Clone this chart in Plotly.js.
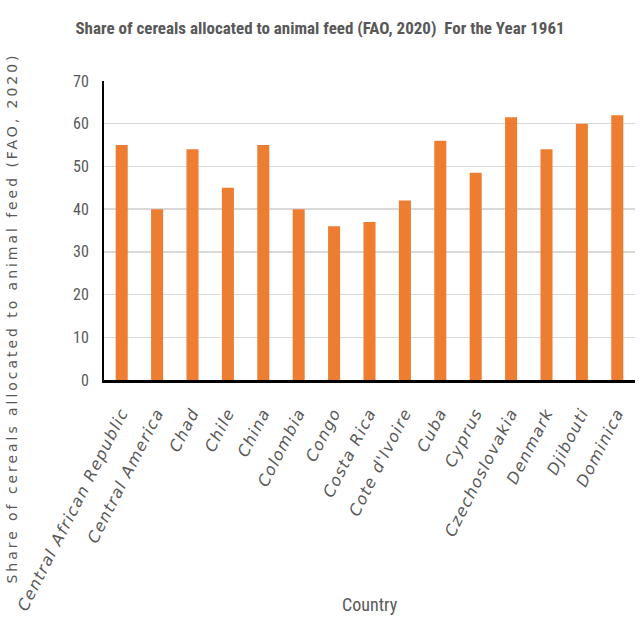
<!DOCTYPE html>
<html>
<head>
<meta charset="utf-8">
<script src="https://cdn.plot.ly/plotly-3.0.1.min.js"></script>
<style>
html,body{margin:0;padding:0;background:#fff;}
#chart{width:640px;height:640px;}
.xtick text{letter-spacing:1.3px;font-style:italic !important;}
</style>
</head>
<body>
<div id="chart"></div>
<script>
const countries = ["Central African Republic","Central America","Chad","Chile","China","Colombia","Congo","Costa Rica","Cote d'Ivoire","Cuba","Cyprus","Czechoslovakia","Denmark","Djibouti","Dominica"];
const shares = [55, 40, 54, 45, 55, 40, 36, 37, 42, 56, 48.5, 61.5, 54, 60, 62];
const yTicks = [0, 10, 20, 30, 40, 50, 60, 70];
const yTitle = 'Share of cereals allocated to animal feed (FAO, 2020)';
const xTitle = 'Country';

const narrow = "Liberation Sans Narrow, Arial Narrow, Roboto Condensed, sans-serif";
const wide = "DejaVu Sans, Verdana, sans-serif";

Plotly.newPlot('chart', [{
  type: 'bar',
  x: countries,
  y: shares,
  marker: {color: '#ED7D31'},
  hoverinfo: 'x+y'
}], {
  width: 640, height: 640,
  paper_bgcolor: '#ffffff', plot_bgcolor: '#ffffff',
  margin: {l: 104, r: 5, t: 81, b: 260},
  bargap: 0.66,
  showlegend: false,
  title: {
    text: 'Share of cereals allocated to animal feed (FAO, 2020)  For the Year 1961',
    font: {family: narrow, size: 17, color: '#595959', weight: 'bold'},
    x: 0.5, xanchor: 'center', y: 0.956, yanchor: 'middle'
  },
  xaxis: {
    type: 'category',
    tickangle: -63,
    tickfont: {family: wide, size: 16, color: '#595959', style: 'italic'},
    showline: true, linecolor: '#000000', linewidth: 3,
    ticks: '', showgrid: false,
    ticklabelstandoff: 14,
    automargin: false
  },
  yaxis: {
    range: [0, 70],
    tickvals: yTicks,
    ticktext: yTicks.map(String),
    tickfont: {family: narrow, size: 16, color: '#595959'},
    showgrid: true, gridcolor: '#d9d9d9', gridwidth: 1.5,
    showline: true, linecolor: '#000000', linewidth: 2,
    zeroline: false,
    ticks: '', ticklabelstandoff: 10,
    automargin: false
  },
  annotations: [
    {
      text: yTitle, textangle: -90, showarrow: false,
      xref: 'paper', yref: 'paper', x: -0.171, y: 0.207,
      xanchor: 'center', yanchor: 'middle',
      font: {family: wide, size: 14, color: '#595959'}
    },
    {
      text: xTitle, showarrow: false,
      xref: 'paper', yref: 'paper', x: 0.5, y: -0.75,
      xanchor: 'center', yanchor: 'middle',
      font: {family: narrow, size: 18, color: '#595959'}
    }
  ]
}, {displayModeBar: false, staticPlot: true}).then(function(){
  // stretch the rotated y title to the reference's wide spacing and centre it
  const ann = document.querySelectorAll('.annotation')[0];
  const txt = ann.querySelector('.annotation-text');
  const base = txt.getComputedTextLength();
  const targetLen = 528, targetCenter = 318;
  const sp = (targetLen - base) / (yTitle.length - 1);
  txt.style.letterSpacing = sp + 'px';
  const r = ann.getBoundingClientRect();
  const dy = targetCenter - (r.top + r.bottom) / 2;
  const dx = 12 - (r.left + r.right) / 2;
  ann.setAttribute('transform', 'translate(' + dx + ',' + dy + ')');
});
</script>
</body>
</html>
